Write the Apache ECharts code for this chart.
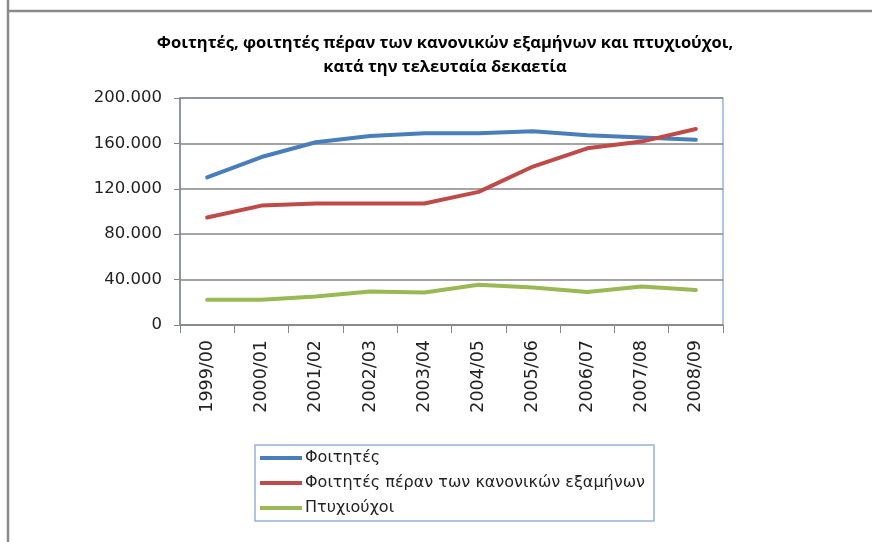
<!DOCTYPE html>
<html><head><meta charset="utf-8">
<script src="https://cdn.jsdelivr.net/npm/echarts@6/dist/echarts.min.js"></script>
<style>html,body{margin:0;padding:0;background:#fff}#c{width:872px;height:542px}</style>
</head><body><div id="c"></div>
<script>
const categories = ['1999/00','2000/01','2001/02','2002/03','2003/04','2004/05','2005/06','2006/07','2007/08','2008/09'];
const students = [130000,148000,161000,166500,169000,169000,170700,167200,165100,163300];
const beyondSemesters = [94700,105200,107000,107000,107000,117300,139600,155700,161600,172700];
const graduates = [22300,22300,25200,29600,28700,35500,33100,29000,34000,30800];
const seriesNames = ['Φοιτητές','Φοιτητές πέραν των κανονικών εξαμήνων','Πτυχιούχοι'];
const titleLines = ['Φοιτητές, φοιτητές πέραν των κανονικών εξαμήνων και πτυχιούχοι,','κατά την τελευταία δεκαετία'];

const titleFont = 'Open Sans';
const labelFont = 'DejaVu Sans';
function fmt(v){ return String(v).replace(/\B(?=(\d{3})+(?!\d))/g,'.'); }
const colors = ['#4a7ebb','#be4b48','#98b954'];
const chart = echarts.init(document.getElementById('c'));
chart.setOption({
  animation:false,
  title:{text:titleLines.join('\n'),left:445,top:31,textAlign:'center',padding:0,
    textStyle:{fontFamily:titleFont,fontSize:16.5,fontWeight:'bold',color:'#000',lineHeight:24}},
  graphic:[
    {type:'line',shape:{x1:8,y1:0,x2:8,y2:542},style:{stroke:'#8a8a8a',lineWidth:2.5}},
    {type:'line',shape:{x1:7,y1:11,x2:872,y2:11},style:{stroke:'#8a8a8a',lineWidth:2.5}}
  ],
  grid:{left:180,top:98,right:149,bottom:217,show:true,borderColor:'#95b3d7',borderWidth:1.5,containLabel:false},
  legend:{orient:'vertical',left:255,top:445,padding:[3.5,9,3.5,5],itemGap:6,
    borderColor:'#95b3d7',borderWidth:1.5,icon:'rect',itemWidth:42,itemHeight:4,
    textStyle:{fontFamily:labelFont,fontSize:16,lineHeight:15,color:'#222',padding:[4,0,0,-2]},
    data:seriesNames},
  xAxis:{type:'category',data:categories,boundaryGap:true,
    axisLine:{lineStyle:{color:'#868686',width:1.5}},
    axisTick:{show:true,length:8,lineStyle:{color:'#868686'}},
    axisLabel:{rotate:90,margin:15,fontFamily:labelFont,fontSize:17.5,color:'#222'}},
  yAxis:{type:'value',min:0,max:200000,interval:40000,
    axisLine:{show:true,lineStyle:{color:'#868686',width:1.5}},
    axisTick:{show:true,length:6,inside:false,lineStyle:{color:'#868686'}},
    splitLine:{lineStyle:{color:'#868686',width:1.5}},
    axisLabel:{margin:18,fontFamily:labelFont,fontSize:16.5,color:'#222',formatter:v=>fmt(v)}},
  series:[students,beyondSemesters,graduates].map((d,i)=>({
    name:seriesNames[i],type:'line',data:d,symbol:'none',
    lineStyle:{width:4,color:colors[i],cap:'round',join:'round'},itemStyle:{color:colors[i]}
  }))
});
</script></body></html>
